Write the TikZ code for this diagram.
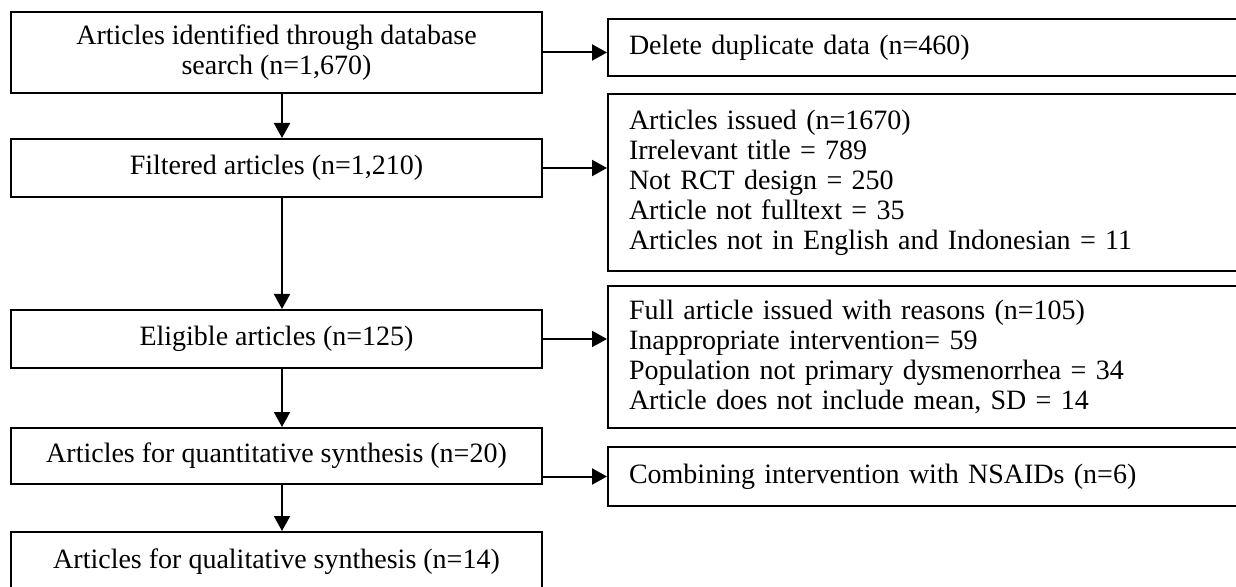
\documentclass[tikz,border=0pt]{standalone}
\usepackage{fontspec}
\setmainfont{Liberation Serif}
\usetikzlibrary{arrows.meta}

\begin{document}
\begin{tikzpicture}
  [x=0.5pt,y=-0.5pt,line width=1pt,
   every node/.style={draw,line width=1pt,inner sep=0pt,font=\fontsize{14}{15}\selectfont},
   stage/.style={minimum width=265.5pt,align=center},
   excl/.style={text width=300pt,inner xsep=10.5pt,align=left},
   arr/.style={-{Triangle[length=7.5pt,width=8pt]}}]
  \useasboundingbox (0,0) rectangle (1236,587);
  \node[stage,minimum height=40.5pt] (nsearch) at (276.5,52.5) {Articles identified through database\\search (n=1,670)};
  \node[stage,minimum height=29pt] (nfilter) at (276.5,168) {Filtered articles (n=1,210)};
  \node[stage,minimum height=29pt] (nelig) at (276.5,339) {Eligible articles (n=125)};
  \node[stage,minimum height=28pt] (nquant) at (276.5,456) {Articles for quantitative synthesis (n=20)};
  \node[stage,minimum height=30pt] (nqual) at (276.5,562) {Articles for qualitative synthesis (n=14)};

  \node[excl,minimum height=28.5pt] (ndup) at (929,47.5) {Delete duplicate data (n=460)};
  \node[excl,minimum height=88.5pt] (nissued) at (929,182.5) {Articles issued (n=1670)\\Irrelevant title = 789\\Not RCT design = 250\\Article not fulltext = 35\\Articles not in English and Indonesian = 11};
  \node[excl,minimum height=71pt] (nfull) at (929,357) {Full article issued with reasons (n=105)\\Inappropriate intervention= 59\\Population not primary dysmenorrhea = 34\\Article does not include mean, SD = 14};
  \node[excl,minimum height=29.5pt] (ncomb) at (929,476.5) {Combining intervention with NSAIDs (n=6)};

  \foreach \from/\to in {nsearch/nfilter,nfilter/nelig,nelig/nquant,nquant/nqual}
    \draw[arr] ([xshift=2.75pt]\from.south) -- ([xshift=2.75pt]\to.north);
  \draw[arr] (nsearch.east) -- (nsearch.east -| ndup.west);
  \draw[arr] (nfilter.east) -- (nfilter.east -| nissued.west);
  \draw[arr] (nelig.east) -- (nelig.east -| nfull.west);
  \draw[arr] (nquant.east |- ncomb.west) -- (ncomb.west);
\end{tikzpicture}
\end{document}
